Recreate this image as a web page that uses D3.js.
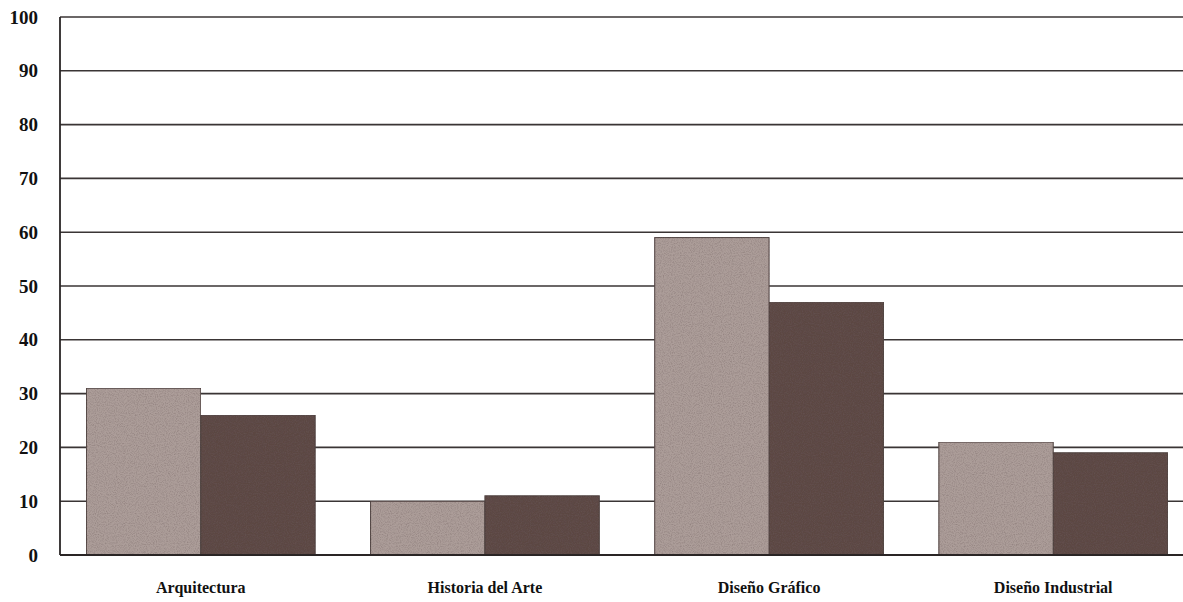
<!DOCTYPE html>
<html><head><meta charset="utf-8">
<script src="https://cdn.jsdelivr.net/npm/d3@7"></script>
<style>
html,body{margin:0;padding:0;background:#fff;}
svg{display:block;}
</style></head>
<body>
<svg id="chart" width="1183" height="602"></svg>
<script>
const categories = ["Arquitectura", "Historia del Arte", "Diseño Gráfico", "Diseño Industrial"];
const seriesLight = [31, 10, 59, 21];
const seriesDark = [26, 11, 47, 19];
const yTicks = [0, 10, 20, 30, 40, 50, 60, 70, 80, 90, 100];
const seriesNames = ["light", "dark"];
const seriesColors = ["#ac9d99", "#5b4743"];

(function(){
const svg = d3.select("#chart");
const mLeft = 60, mRight = 1194, mTop = 17, mBottom = 555;

const defs = svg.append("defs");
const f = defs.append("filter").attr("id","grain").attr("x","0").attr("y","0").attr("width","1").attr("height","1");
f.append("feTurbulence").attr("type","fractalNoise").attr("baseFrequency","0.9").attr("numOctaves","2").attr("seed","3").attr("result","noise");
f.append("feColorMatrix").attr("in","noise").attr("type","matrix")
  .attr("values","0 0 0 0 0.15  0 0 0 0 0.1  0 0 0 0 0.1  0 0 0 -0.9 0.55").attr("result","dark");
f.append("feComposite").attr("in","dark").attr("in2","SourceGraphic").attr("operator","in").attr("result","darkc");
f.append("feComposite").attr("in","darkc").attr("in2","SourceGraphic").attr("operator","over");

const y = d3.scaleLinear().domain([0, 100]).range([mBottom, mTop]);
const x0 = d3.scaleBand().domain(categories).range([mLeft, mRight]).paddingInner(0.195).paddingOuter(0.093);
const x1 = d3.scaleBand().domain(seriesNames).range([0, x0.bandwidth()]);

// gridlines
svg.append("g").selectAll("line").data(yTicks.filter(d => d > 0)).join("line")
  .attr("x1", mLeft).attr("x2", 1183)
  .attr("y1", d => y(d)).attr("y2", d => y(d))
  .attr("stroke", "#3a3535").attr("stroke-width", 1.6);

// bars
const data = categories.map((c, i) => ({c, vals: [seriesLight[i], seriesDark[i]]}));
const groups = svg.append("g").selectAll("g").data(data).join("g")
  .attr("transform", d => `translate(${x0(d.c)},0)`);
groups.selectAll("rect").data(d => d.vals.map((v, j) => ({v, s: seriesNames[j], j}))).join("rect")
  .attr("x", d => x1(d.s))
  .attr("y", d => y(d.v))
  .attr("width", x1.bandwidth())
  .attr("height", d => mBottom - y(d.v))
  .attr("fill", d => seriesColors[d.j])
  .attr("stroke", "#4a3e3c").attr("stroke-width", 1)
  .attr("filter", "url(#grain)");

// y axis
const yAxis = d3.axisLeft(y).tickValues(yTicks).tickSize(0).tickPadding(0);
const ya = svg.append("g").attr("transform", `translate(${mLeft},0)`).call(yAxis);
ya.select(".domain").remove();
ya.selectAll("text")
  .attr("x", -22)
  .attr("font-family", "Liberation Serif, serif")
  .attr("font-weight", "bold").attr("font-size", 19).attr("fill", "#111");

svg.append("line").attr("x1", mLeft).attr("x2", mLeft).attr("y1", mTop).attr("y2", mBottom)
  .attr("stroke", "#2a2525").attr("stroke-width", 1.8);
svg.append("line").attr("x1", mLeft).attr("x2", 1183).attr("y1", mBottom).attr("y2", mBottom)
  .attr("stroke", "#2a2525").attr("stroke-width", 1.8);

// x axis labels
const xAxis = d3.axisBottom(x0).tickSize(0).tickPadding(0);
const xa = svg.append("g").attr("transform", `translate(0,${mBottom})`).call(xAxis);
xa.select(".domain").remove();
xa.selectAll("text")
  .attr("y", 27)
  .attr("font-family", "Liberation Serif, serif")
  .attr("font-weight", "bold").attr("font-size", 16).attr("fill", "#111");
})();
</script>
</body></html>
